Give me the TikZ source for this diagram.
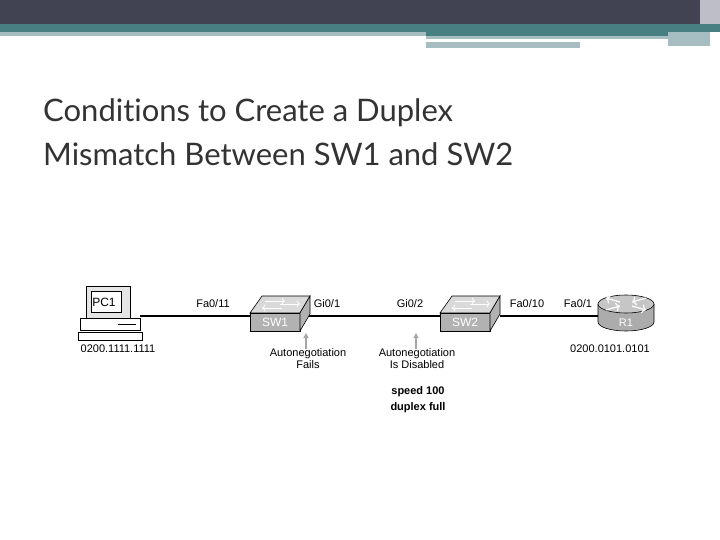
\documentclass[tikz,border=0pt]{standalone}
\usepackage{fontspec}
\setmainfont{Liberation Sans}
\newfontfamily\titlefont[Ligatures=NoCommon]{Lato}
\usetikzlibrary{shapes.geometric,arrows.meta}
\begin{document}
\begin{tikzpicture}[x=1pt,y=-1pt,
  lbl/.style={font=\fontsize{11}{12}\selectfont,inner sep=0pt},
  dev/.style={draw=black,line width=0.6pt},
  garrow/.style={draw=gray!70,line width=1.2pt,-{Triangle[length=5pt,width=5pt]}}]
\useasboundingbox (0,0) rectangle (720,540);
\fill[white] (0,0) rectangle (720,540);
% header
\fill[fill={rgb,255:red,65;green,66;blue,82}] (0,0) rectangle (720,24);
\fill[fill={rgb,255:red,72;green,127;blue,130}] (0,24) rectangle (720,32);
\fill[fill={rgb,255:red,166;green,190;blue,194}] (0,32) rectangle (426,36);
\fill[fill={rgb,255:red,72;green,127;blue,130}] (426,32) rectangle (710,36);
\fill[fill={rgb,255:red,166;green,190;blue,194}] (426,36) rectangle (668,39);
\fill[fill={rgb,255:red,166;green,190;blue,194}] (426,42) rectangle (580,48);
\fill[fill={rgb,255:red,166;green,190;blue,194}] (668,32) rectangle (710,46);
\fill[fill={rgb,255:red,190;green,190;blue,200}] (700,0) rectangle (720,24);
% title
\node[anchor=base west,inner sep=0pt,font=\titlefont\fontsize{31}{36}\selectfont,text=black!80] (t1) at (43,122) {Conditions to Create a Duplex};
\node[anchor=base west,inner sep=0pt,font=\titlefont\fontsize{31}{36}\selectfont,text=black!80] (t2) at (43,166) {Mismatch Between SW1 and SW2};
% coordinates
\coordinate (pc) at (140,316);
\coordinate (sw1l) at (252,316);
\coordinate (sw1r) at (305,316);
\coordinate (sw2l) at (442,316);
\coordinate (sw2r) at (500,316);
\coordinate (rt) at (598,316);
\draw[line width=1.2pt] (pc) -- (sw1l) (sw1r) -- (sw2l) (sw2r) -- (rt);
% PC
\draw[dev,fill=gray!20] (86,286) rectangle (130,318);
\draw[dev,fill=white] (91,291) rectangle (121,312);
\node[lbl,font=\fontsize{12}{13}\selectfont] (pc1) at (104,302) {PC1};
\draw[dev,fill=white] (80,318) -- (140,318) -- (140,330) -- (80,330) -- cycle;
\draw[dev] (118,324) -- (136,324);
\draw[dev,fill=white] (78,332) rectangle (142,340);
% SW1
\draw[dev,fill=gray!30] (262,296) -- (310,296) -- (300,313) -- (250,313) -- cycle;
\draw[dev,fill=gray!60] (250,313) rectangle (300,331);
\draw[dev,fill=gray!60] (300,313) -- (310,296) -- (310,314) -- (300,331) -- cycle;
\draw[white,line width=0.8pt,->] (265,301) -- (285,301);
\draw[white,line width=0.8pt,<-] (262,308) -- (282,308);
\draw[white,line width=0.8pt,->] (280,304) -- (300,304);
\node[lbl,text=white,font=\fontsize{12}{13}\selectfont] (sw1) at (275,322) {SW1};
% SW2
\draw[dev,fill=gray!30] (452,296) -- (500,296) -- (490,313) -- (440,313) -- cycle;
\draw[dev,fill=gray!60] (440,313) rectangle (490,331);
\draw[dev,fill=gray!60] (490,313) -- (500,296) -- (500,314) -- (490,331) -- cycle;
\draw[white,line width=0.8pt,->] (455,301) -- (475,301);
\draw[white,line width=0.8pt,<-] (452,308) -- (472,308);
\draw[white,line width=0.8pt,->] (470,304) -- (490,304);
\node[lbl,text=white,font=\fontsize{12}{13}\selectfont] (sw2) at (465,322) {SW2};
% Router
\fill[gray!65] (598,304) -- (598,322) arc[start angle=180,end angle=0,x radius=28,y radius=9] -- (654,304) -- cycle;
\draw[dev] (598,304) -- (598,322) arc[start angle=180,end angle=0,x radius=28,y radius=9] -- (654,304);
\draw[dev,fill=gray!45] (626,304) ellipse[x radius=28,y radius=9];
\draw[white,line width=1.2pt,->] (620,302) -- (606,298);
\draw[white,line width=1.2pt,->] (632,306) -- (646,310);
\draw[white,line width=1.2pt,<-] (620,306) -- (606,310);
\draw[white,line width=1.2pt,<-] (632,302) -- (646,298);
\node[lbl,text=white] (r1) at (626,323) {R1};
% port labels
\node[lbl] (f11) at (213,304) {Fa0/11};
\node[lbl] (g01) at (327,304) {Gi0/1};
\node[lbl] (g02) at (410,304) {Gi0/2};
\node[lbl] (f10) at (527,304) {Fa0/10};
\node[lbl] (f01) at (578,304) {Fa0/1};
\node[lbl] (a1) at (118,349) {0200.1111.1111};
\node[lbl] (a2) at (610,349) {0200.0101.0101};
% annotations
\node[lbl,align=center] (n1) at (308,359) {Autonegotiation\\Fails};
\node[lbl,align=center] (n2) at (417,359) {Autonegotiation\\Is Disabled};
\node[lbl,align=center,font=\bfseries\fontsize{11}{16}\selectfont] (n3) at (418,400) {speed 100\\duplex full};
\coordinate (p1) at (306,333);
\coordinate (p2) at (416,333);
\draw[garrow] (n1.north -| p1) -- (p1);
\draw[garrow] (n2.north -| p2) -- (p2);
\end{tikzpicture}
\end{document}
